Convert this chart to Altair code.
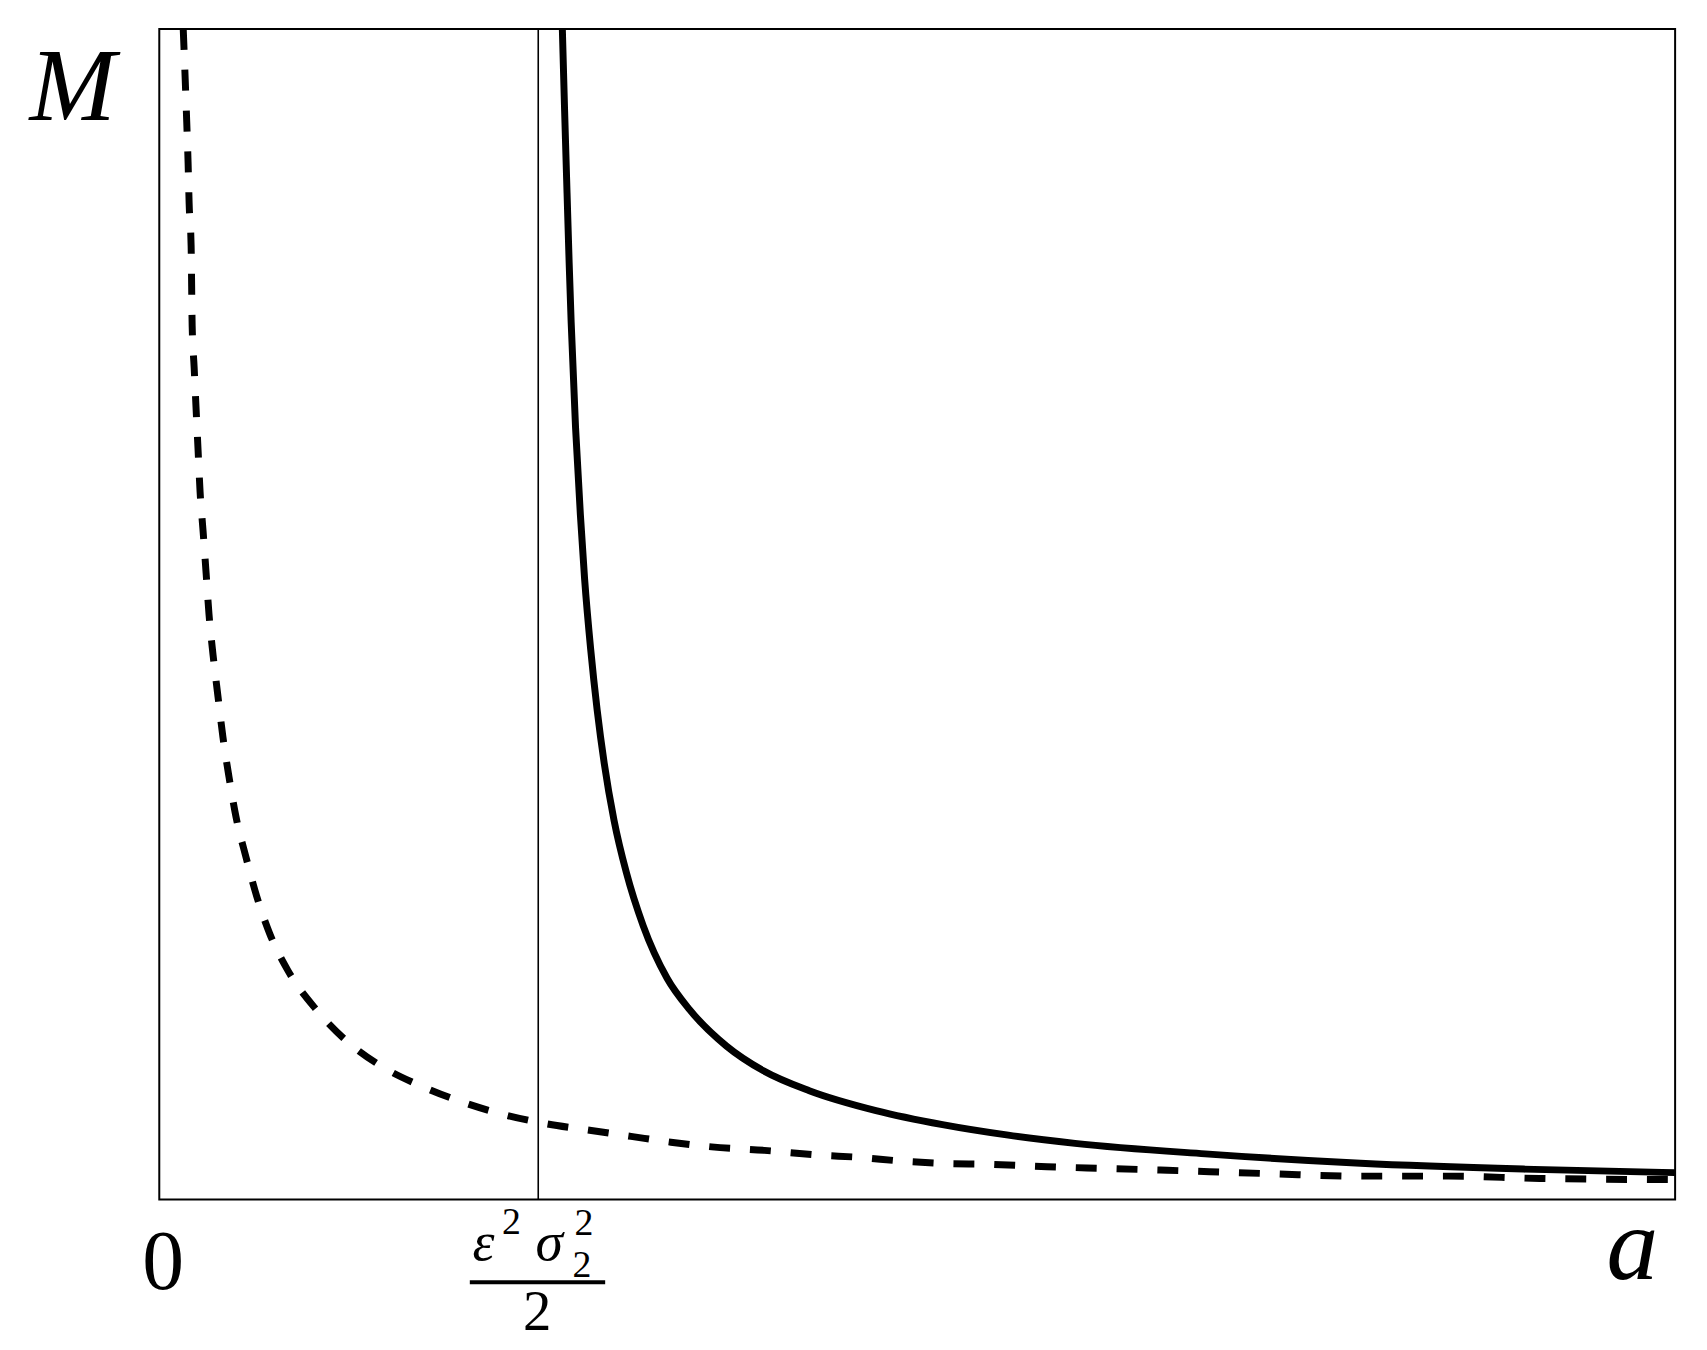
import altair as alt
import pandas as pd

# ---- data (a on [0,1], M on [0,1]) ----
dashed_a = [0.0158, 0.0171, 0.0181, 0.0190, 0.0197, 0.0210, 0.0217, 0.0230, 0.0243,
            0.0256, 0.0269, 0.0289, 0.0309, 0.0328, 0.0355, 0.0387, 0.0420, 0.0460,
            0.0506, 0.0571, 0.0643, 0.0729, 0.0847, 0.1037, 0.1267, 0.1490, 0.1727,
            0.1983, 0.2232, 0.2541, 0.2850, 0.3112, 0.3375, 0.3644, 0.3992, 0.4353,
            0.4622, 0.4885, 0.5148, 0.5502, 0.5857, 0.6120, 0.6651, 0.7347, 0.7886,
            0.8503, 0.9107, 1.0000]
dashed_M = [1.000, 0.957, 0.921, 0.886, 0.851, 0.815, 0.746, 0.711, 0.675,
            0.640, 0.605, 0.571, 0.535, 0.500, 0.465, 0.430, 0.395, 0.361,
            0.327, 0.293, 0.259, 0.227, 0.196, 0.162, 0.132, 0.112, 0.097,
            0.084, 0.074, 0.065, 0.059, 0.054, 0.049, 0.045, 0.042, 0.038,
            0.036, 0.033, 0.031, 0.030, 0.028, 0.027, 0.025, 0.022, 0.020,
            0.020, 0.018, 0.017]

solid_a = [0.2659, 0.2674, 0.2690, 0.2704, 0.2717, 0.2746, 0.2778, 0.2806, 0.2846,
           0.2889, 0.2935, 0.3000, 0.3082, 0.3192, 0.3350, 0.3500, 0.3743, 0.3986,
           0.4288, 0.4728, 0.5167, 0.5601, 0.6041, 0.6900, 0.7925, 0.9000, 1.0000]
solid_M = [1.000, 0.930, 0.860, 0.800, 0.750, 0.660, 0.585, 0.530, 0.470,
           0.418, 0.373, 0.324, 0.279, 0.234, 0.189, 0.162, 0.131, 0.110,
           0.093, 0.076, 0.064, 0.055, 0.048, 0.039, 0.031, 0.026, 0.023]

threshold_a = [0.25]
zero_a = 0.0

W, H = 1523, 1176
FONT = "Liberation Serif"

xs = alt.Scale(domain=[0, 1], nice=False, zero=False)
ys = alt.Scale(domain=[0, 1], nice=False, zero=False)

dashed = alt.Chart(pd.DataFrame({"a": dashed_a, "M": dashed_M})).mark_line(
    color="black", strokeWidth=7, strokeDash=[21, 20], strokeCap="butt",
    interpolate="monotone", clip=True
).encode(
    x=alt.X("a:Q", scale=xs, axis=None),
    y=alt.Y("M:Q", scale=ys, axis=None),
)

solid = alt.Chart(pd.DataFrame({"a": solid_a, "M": solid_M})).mark_line(
    color="black", strokeWidth=7, interpolate="monotone", clip=True
).encode(
    x=alt.X("a:Q", scale=xs, axis=None),
    y=alt.Y("M:Q", scale=ys, axis=None),
)

vline = alt.Chart(pd.DataFrame({"a": threshold_a})).mark_rule(
    color="black", strokeWidth=1.6
).encode(
    x=alt.X("a:Q", scale=xs, axis=None),
    y=alt.value(0),
    y2=alt.value(H),
)

one = pd.DataFrame({"k": [0]})


def txt(text, xenc, y, size, italic=False, dx=0):
    kw = dict(text=text, font=FONT, fontSize=size, color="black",
              align="center", baseline="alphabetic", dx=dx)
    if italic:
        kw["fontStyle"] = "italic"
    return alt.Chart(one).mark_text(**kw).encode(x=xenc, y=alt.value(y))


thr = threshold_a[0]
labels = [
    txt("M", alt.value(-87), 91, 104, italic=True),
    txt("0", alt.datum(zero_a), 1266, 84, dx=4),
    txt("a", alt.datum(1.0), 1256, 104, italic=True, dx=-43),
    txt("ε", alt.datum(thr), 1237, 56, italic=True, dx=-55),
    txt("2", alt.datum(thr), 1211, 38, dx=-27),
    txt("σ", alt.datum(thr), 1237, 56, italic=True, dx=11),
    txt("2", alt.datum(thr), 1212, 38, dx=46),
    txt("2", alt.datum(thr), 1254, 38, dx=44),
    txt("2", alt.datum(thr), 1307, 57, dx=-1),
]

frac_bar = alt.Chart(one).mark_rule(color="black", strokeWidth=4).encode(
    x=alt.value(312), x2=alt.value(448), y=alt.value(1259)
)

chart = alt.layer(vline, dashed, solid, frac_bar, *labels).properties(
    width=W,
    height=H,
    padding={"left": 152, "top": 18, "right": 24, "bottom": 148},
    autosize=alt.AutoSizeParams(type="none"),
    background="white",
).configure_view(stroke="black", strokeWidth=2)

chart.save("out.html", embed_options={"renderer": "svg", "actions": False})
